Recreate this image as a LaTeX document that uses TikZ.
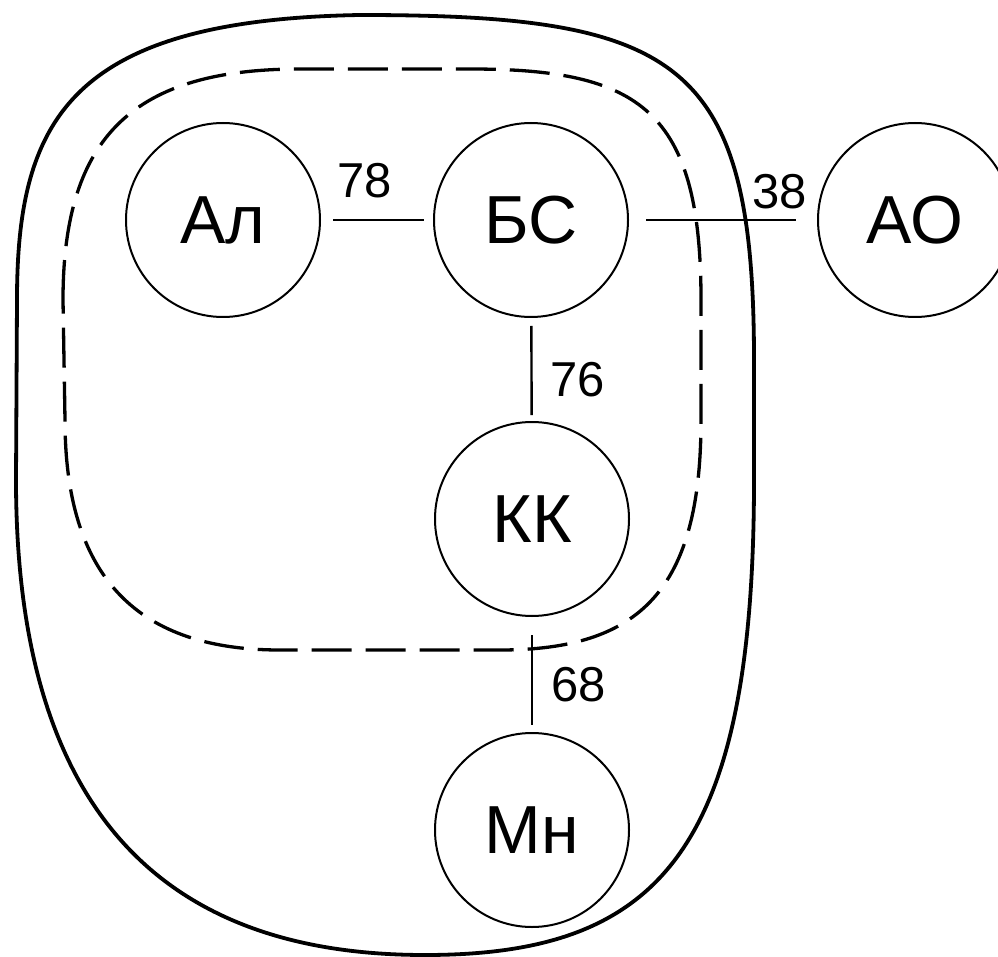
\documentclass[tikz,border=0pt]{standalone}
\usepackage{fontspec}
\setmainfont{Liberation Sans}
\begin{document}
\begin{tikzpicture}[x=1pt, y=-1pt,
        town/.style={draw, circle, line width=2pt, minimum size=194pt, inner sep=0pt, font=\fontsize{68}{68}\selectfont},
        weight/.style={inner sep=0pt, font=\fontsize{49}{49}\selectfont}]
        \useasboundingbox (0, 0) rectangle (998, 957);

        \node[town] (al) at (223, 220) {Ал};
        \node[town] (bs) at (531, 220) {БС};
        \node[town] (ao) at (915, 220) {АО};
        \node[town] (kk) at (532, 519) {КК};
        \node[town] (mn) at (532, 830) {Мн};

        \draw[line width=3.8pt] (17, 300) .. controls (17, 120) and (70, 20) .. (360, 15) .. controls (680, 15) and (754, 60) .. (754, 360) -- (754, 480) .. controls (754, 850) and (660, 955) .. (425, 955) .. controls (200, 955) and (16, 850) .. (16, 480) -- cycle;
        \draw[line width=3.3pt, dash pattern=on 40pt off 14pt] (63, 300) .. controls (63, 135) and (135, 69) .. (300, 69) -- (470, 69) .. controls (640, 69) and (701, 110) .. (701, 300) -- (701, 420) .. controls (701, 590) and (640, 650) .. (500, 650) -- (280, 650) .. controls (140, 650) and (65, 580) .. (65, 420) -- cycle;

        \begin{scope}[line width=2.4pt]
            \draw[shorten <=12pt, shorten >=9pt] (al) -- node[weight, above=21pt, pos=0.39] {78} (bs);
            \draw[shorten <=17pt, shorten >=21pt] (bs) -- node[weight, above=10pt, pos=0.8] {38} (ao);
            \draw[shorten <=8pt, shorten >=6pt] (bs) -- node[weight, right=18pt, pos=0.6] {76} (kk);
            \draw[shorten <=18pt, shorten >=7pt] (kk) -- node[weight, right=18pt, pos=0.59] {68} (mn);
        \end{scope}
    \end{tikzpicture}
\end{document}
